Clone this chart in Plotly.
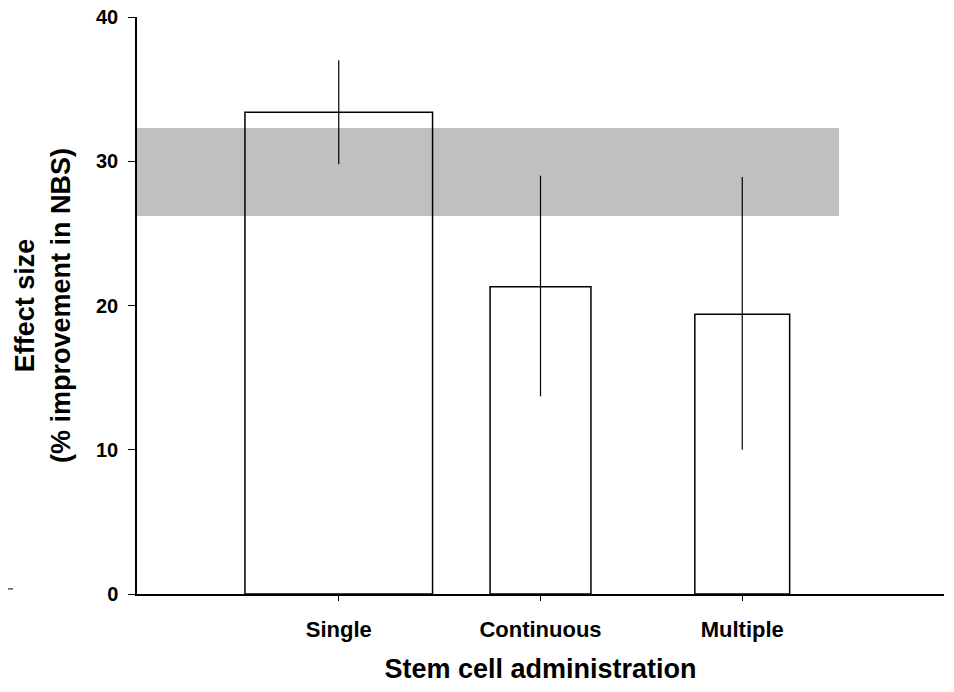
import plotly.graph_objects as go

categories = ["Single", "Continuous", "Multiple"]
effect = [33.4, 21.3, 19.4]
err_plus = [3.6, 7.7, 9.5]
err_minus = [3.6, 7.6, 9.4]
band_low = 26.2
band_high = 32.3
y_ticks = [0, 10, 20, 30, 40]

bar_widths = [0.93, 0.5, 0.47]

fig = go.Figure()
fig.add_trace(go.Bar(
    x=categories, y=effect, width=bar_widths,
    marker=dict(color="rgba(0,0,0,0)", line=dict(color="black", width=1.5)),
    error_y=dict(type="data", array=err_plus, arrayminus=err_minus,
                 color="black", thickness=1.2, width=0),
))

fig.add_shape(type="rect", xref="x", yref="y", x0=-1, x1=2.48, y0=band_low, y1=band_high,
              fillcolor="#C0C0C0", line=dict(width=0), layer="below")
# small stray dash at far left
fig.add_shape(type="line", xref="paper", yref="y", x0=-129/807, x1=-124/807, y0=0.35, y1=0.35,
              line=dict(color="black", width=1))

fnt = "Liberation Sans, Arial, sans-serif"
# page body has an 8px default margin, so the figure is sized/offset to compensate
fig.update_layout(
    width=938, height=676,
    margin=dict(l=129, r=2, t=9, b=90),
    plot_bgcolor="white", paper_bgcolor="white",
    showlegend=False,
    font=dict(family=fnt, color="black"),
    xaxis=dict(
        range=[-1, 3], showline=True, linecolor="black", linewidth=1.5,
        ticks="outside", ticklen=5, tickcolor="black", tickwidth=1,
        ticklabelstandoff=10,
        tickfont=dict(size=22, family=fnt, weight="bold"),
        title=dict(text="<b>Stem cell administration</b>", font=dict(size=27), standoff=35),
        showgrid=False, zeroline=False, automargin=False,
    ),
    yaxis=dict(
        range=[0, 40], tickvals=y_ticks, showline=True, linecolor="black", linewidth=1.5,
        ticks="outside", ticklen=7, tickcolor="black", tickwidth=1,
        ticklabelstandoff=6, ticklabeloverflow="allow",
        tickfont=dict(size=20, family=fnt, weight="bold"),
        title=dict(text="<b>Effect size<br>(% improvement in NBS)</b>", font=dict(size=27), standoff=18),
        showgrid=False, zeroline=False, automargin=False,
    ),
)

fig.write_html("out.html")
